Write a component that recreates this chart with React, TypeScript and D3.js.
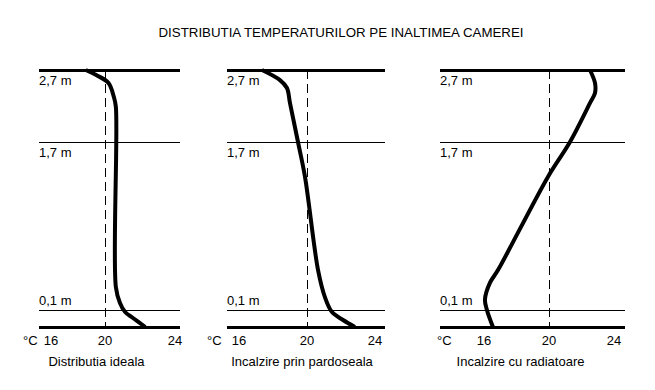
import React from "react";
import * as d3 from "d3";

const W = 655,
  H = 390;

const title = "DISTRIBUTIA TEMPERATURILOR PE INALTIMEA CAMEREI";
const panelNames = ["Distributia ideala", "Incalzire prin pardoseala", "Incalzire cu radiatoare"];
const tempTicks = [16, 20, 24];
const heightLines = [2.7, 1.7, 0.1, 0];
const heightLabels = ["2,7 m", "1,7 m", "0,1 m", ""];

// curves: temperature (°C) against height (m)
const idealT = [18.9, 19.5, 20.2, 20.5, 20.62, 20.62, 20.85, 21.15, 21.6, 22.3];
const idealH = [2.7, 2.63, 2.52, 2.33, 2.19, 0.32, 0.17, 0.088, 0.053, 0];
const floorT = [17.35, 18.41, 18.82, 19.0, 19.47, 19.88, 20.65, 21.06, 21.47, 22.12, 22.82];
const floorH = [2.7, 2.56, 2.45, 2.24, 1.7, 1.37, 0.48, 0.22, 0.088, 0.041, 0];
const radT = [22.52, 22.83, 22.83, 22.52, 21.29, 19.94, 16.86, 16.37, 16.06, 16.18, 16.55];
const radH = [2.7, 2.52, 2.38, 2.24, 1.7, 1.37, 0.48, 0.36, 0.2, 0.1, 0];

const series = [
  { t: idealT, h: idealH },
  { t: floorT, h: floorH },
  { t: radT, h: radH },
];

// layout per panel: frame edges and where 16/24 fall
const layout = [
  { left: 39, right: 180, x16: 35, x24: 175, unitX: 23, nameShift: -13 },
  { left: 227, right: 385, x16: 239, x24: 375, unitX: 207, nameShift: -4 },
  { left: 440, right: 625, x16: 484, x24: 614, unitX: 437, nameShift: -12 },
];

// height axis is schematic, not linear
const yScale = d3.scaleLinear().domain([0, 0.1, 1.7, 2.7]).range([327, 310, 142, 70]);

const font = "'Liberation Sans', Arial, sans-serif";
const fs = 13;

const Panel = ({ idx }: { idx: number }) => {
  const lay = layout[idx];
  const s = series[idx];
  const x = d3.scaleLinear().domain([16, 24]).range([lay.x16, lay.x24]);
  const pts = s.t.map((t, i) => [t, s.h[i]] as [number, number]);
  const line = d3
    .line<[number, number]>()
    .x(d => x(d[0]))
    .y(d => yScale(d[1]))
    .curve(d3.curveCatmullRom.alpha(0.5));

  return (
    <g>
      {heightLines.map((h, i) => {
        const thick = h === 0 || h === 2.7;
        const y = yScale(h) + (thick ? 0 : 0.5);
        return (
          <line
            key={"h" + i}
            x1={lay.left}
            x2={lay.right}
            y1={y}
            y2={y}
            stroke="#000"
            strokeWidth={thick ? 3 : 1}
            shapeRendering="crispEdges"
          />
        );
      })}
      {heightLabels.map((lbl, i) =>
        lbl ? (
          <text
            key={"l" + i}
            x={lay.left}
            y={heightLines[i] === 0.1 ? yScale(heightLines[i]) - 5 : yScale(heightLines[i]) + 15}
            fontSize={fs}
            fontFamily={font}
          >
            {lbl}
          </text>
        ) : null
      )}
      <line
        x1={x(20) + 0.5}
        x2={x(20) + 0.5}
        y1={yScale(2.7)}
        y2={yScale(0)}
        stroke="#000"
        strokeWidth={1}
        strokeDasharray="9,5"
        shapeRendering="crispEdges"
      />
      <path d={line(pts) || ""} fill="none" stroke="#000" strokeWidth={4} strokeLinejoin="round" />
      <text x={lay.unitX} y={345} fontSize={fs} fontFamily={font}>
        °C
      </text>
      {tempTicks.map(t => (
        <text
          key={"t" + t}
          x={t === 16 ? Math.max(x(t), lay.left + 12) : x(t)}
          y={345}
          fontSize={fs}
          fontFamily={font}
          textAnchor="middle"
        >
          {t}
        </text>
      ))}
      <text
        x={(lay.left + lay.right) / 2 + lay.nameShift}
        y={366}
        fontSize={fs}
        fontFamily={font}
        textAnchor="middle"
      >
        {panelNames[idx]}
      </text>
    </g>
  );
};

export default function App() {
  return (
    <svg
      width={W}
      height={H}
      style={{ position: "absolute", left: 0, top: 0, background: "#fff" }}
    >
      <rect width={W} height={H} fill="#fff" />
      <text x={341} y={37} fontSize={13.3} fontFamily={font} textAnchor="middle">
        {title}
      </text>
      {series.map((_, i) => (
        <Panel key={i} idx={i} />
      ))}
    </svg>
  );
}
